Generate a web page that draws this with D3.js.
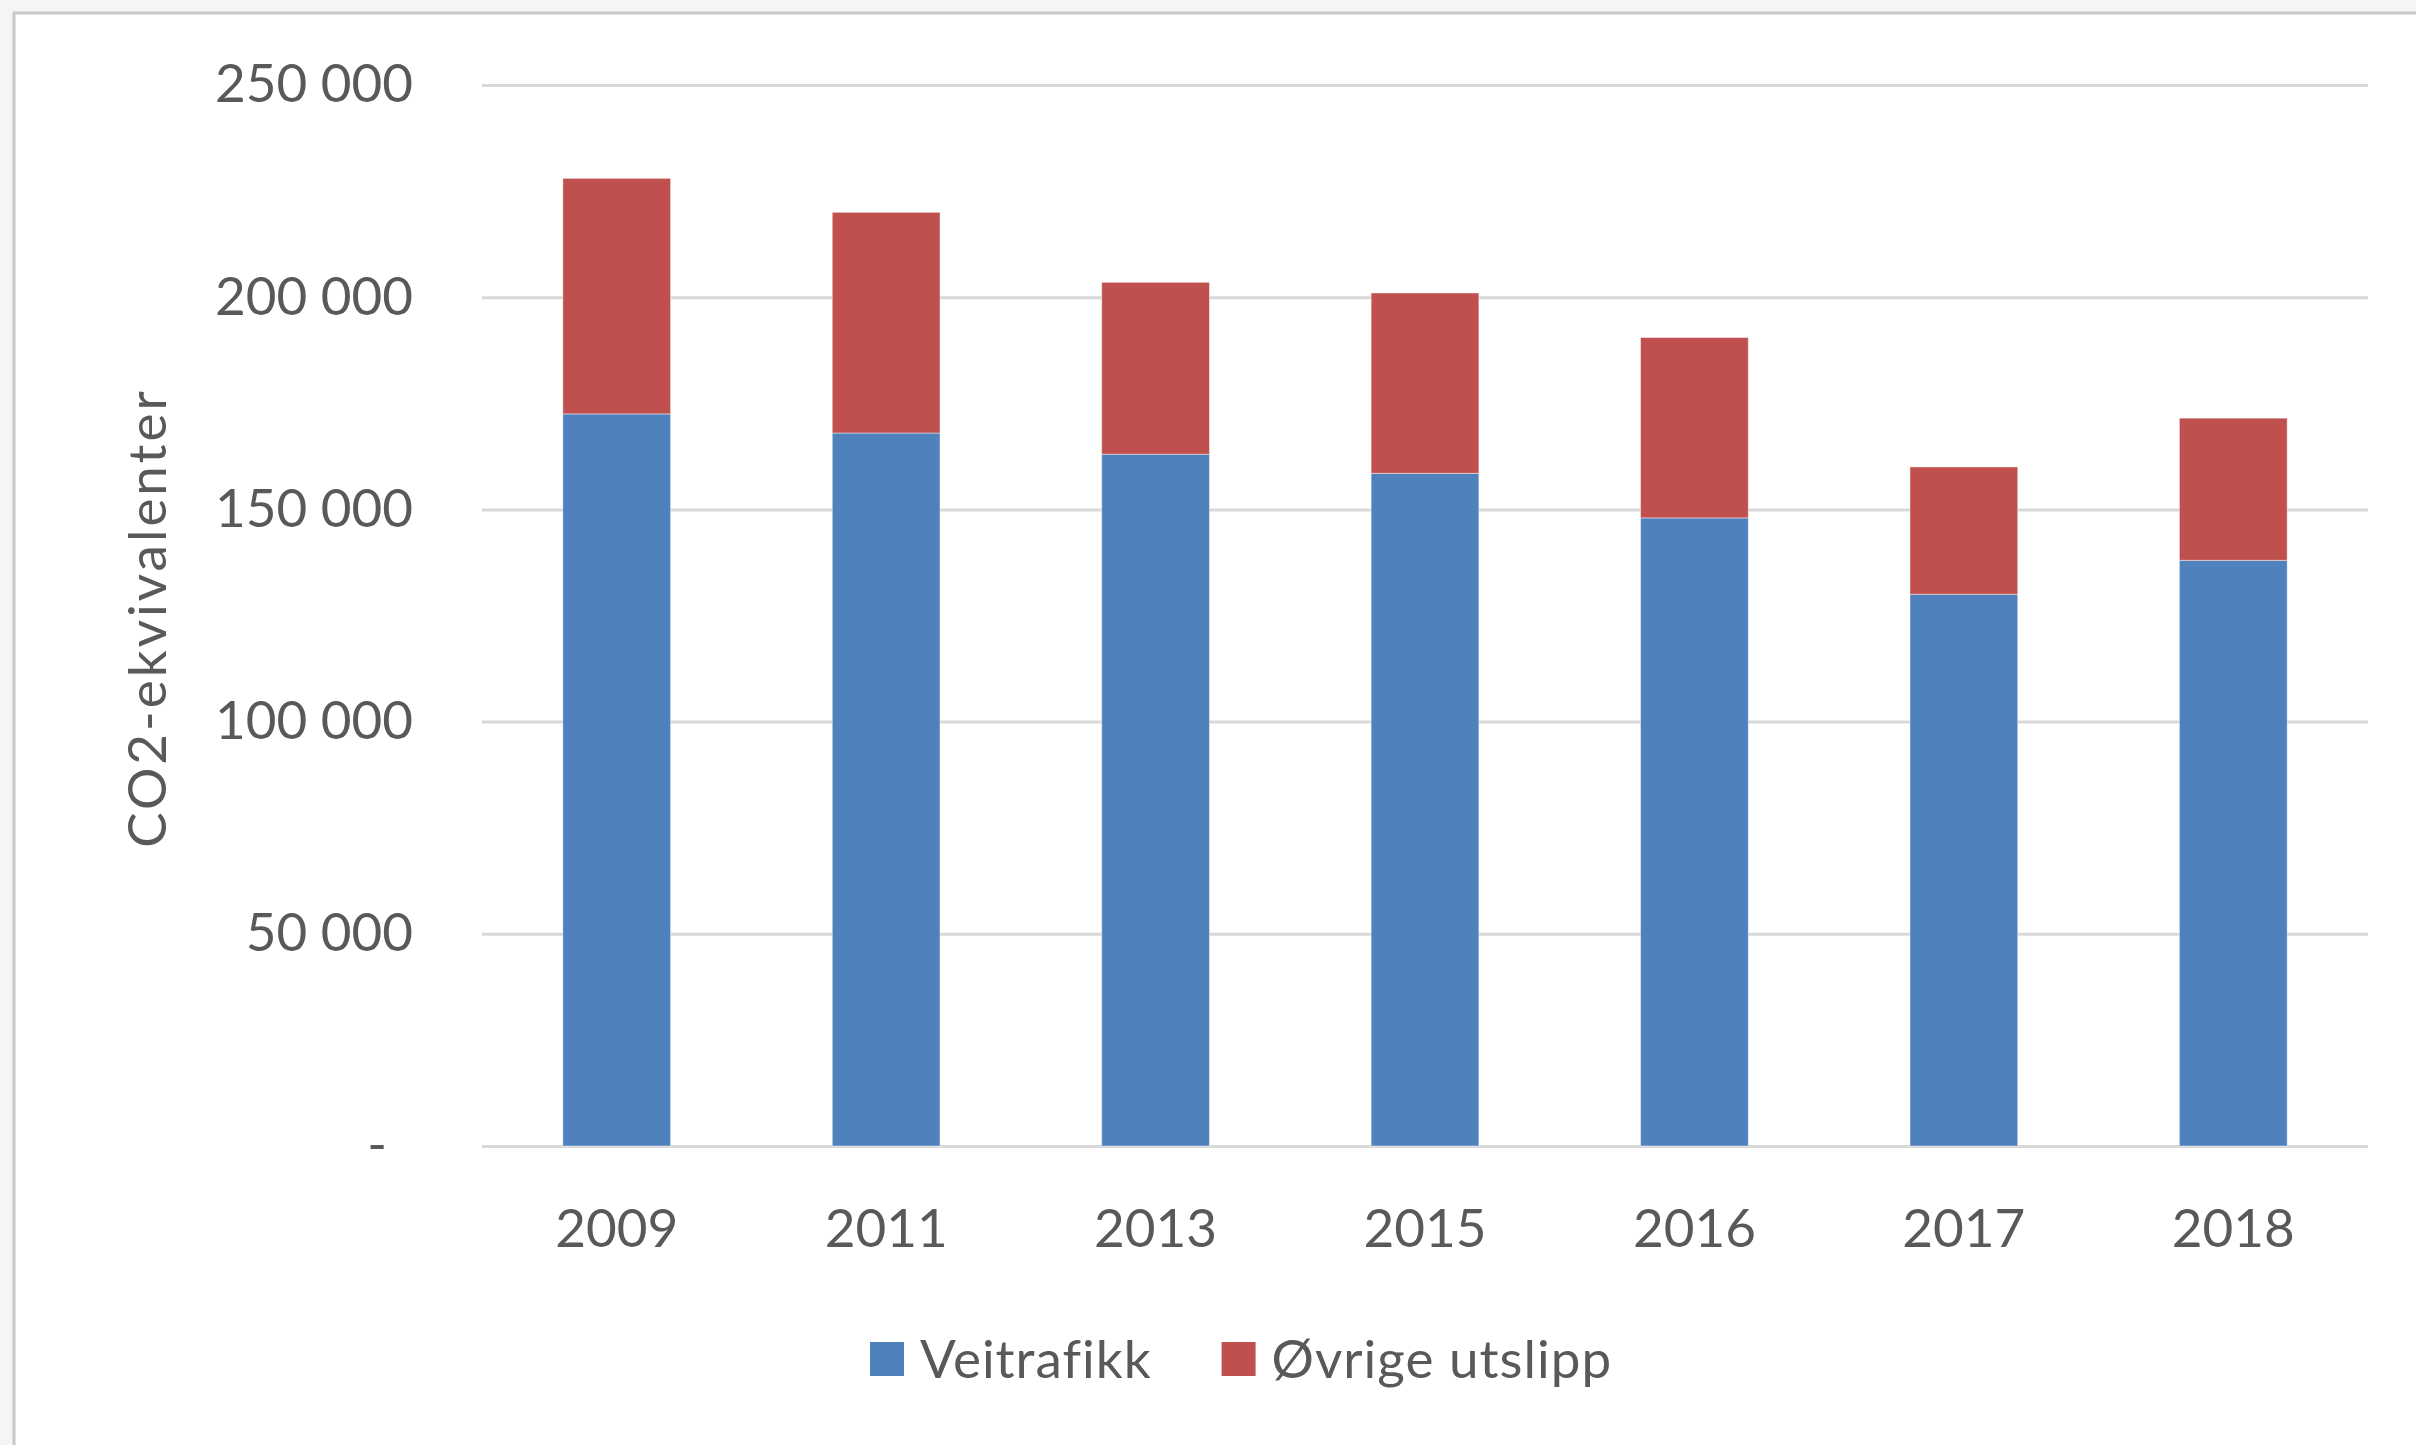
<!DOCTYPE html>
<html>
<head>
<meta charset="utf-8">
<script src="https://cdn.jsdelivr.net/npm/d3@7"></script>
<style>
  html, body { margin: 0; padding: 0; background: #f4f6f4; }
  svg { display: block; }
</style>
</head>
<body>
<svg id="chart" width="2416" height="1445"></svg>
<script>
// data
const years = ["2009", "2011", "2013", "2015", "2016", "2017", "2018"];
const veitrafikk = [172500, 168000, 163000, 158500, 148000, 130000, 138000];
const ovrige = [55500, 52000, 40500, 42500, 42500, 30000, 33500];
const seriesNames = ["Veitrafikk", "Øvrige utslipp"];
const seriesColors = ["#4f81bd", "#c0504d"];
const yTicks = [0, 50000, 100000, 150000, 200000, 250000];

const svg = d3.select("#chart"),
   margin = {top: 85, right: 48, bottom: 299, left: 482},
   width = +svg.attr("width"),
   height = +svg.attr("height");

const fontFam = "Lato, 'Open Sans', sans-serif";
const textCol = "#595959";

// chart area
svg.append("rect")
   .attr("x", 14).attr("y", 13)
   .attr("width", width + 10).attr("height", height + 10)
   .attr("fill", "#fff")
   .attr("stroke", "#c8c8c8")
   .attr("stroke-width", 3);

const x = d3.scaleBand()
   .domain(years)
   .range([margin.left, width - margin.right])
   .paddingInner(0.6)
   .paddingOuter(0.3);

const y = d3.scaleLinear()
   .domain([0, 250000])
   .range([height - margin.bottom, margin.top]);

const fmt = v => v === 0 ? "-" : d3.format(",")(v).replace(/,/g, " ");

// y axis + gridlines
const yAxis = svg.append("g")
   .attr("transform", `translate(${margin.left},0)`)
   .call(d3.axisLeft(y).tickValues(yTicks).tickFormat(fmt)
      .tickSizeInner(-(width - margin.right - margin.left))
      .tickSizeOuter(0)
      .tickPadding(69));
yAxis.select(".domain").remove();
yAxis.selectAll("line").attr("stroke", "#d9d9d9").attr("stroke-width", 3);
yAxis.selectAll("text")
   .attr("font-family", fontFam)
   .attr("font-size", 53)
   .attr("fill", textCol)
   .attr("dx", d => d === 0 ? -26 : 0);

// stacked bars
const rows = years.map((yr, i) => ({year: yr, Veitrafikk: veitrafikk[i], "Øvrige utslipp": ovrige[i]}));
const stack = d3.stack().keys(seriesNames)(rows);

svg.append("g")
   .selectAll("g")
   .data(stack)
   .join("g")
   .attr("fill", (d, i) => seriesColors[i])
   .selectAll("rect")
   .data(d => d)
   .join("rect")
   .attr("x", d => x(d.data.year))
   .attr("y", d => y(d[1]))
   .attr("height", d => y(d[0]) - y(d[1]))
   .attr("width", x.bandwidth())
   .attr("stroke", "#ffffff")
   .attr("stroke-opacity", 0.45)
   .attr("stroke-width", 1);

// x axis
const xAxis = svg.append("g")
   .attr("transform", `translate(0,${height - margin.bottom})`)
   .call(d3.axisBottom(x).tickSize(0).tickPadding(63));
xAxis.select(".domain").remove();
xAxis.selectAll("text")
   .attr("font-family", fontFam)
   .attr("font-size", 53)
   .attr("fill", textCol);

// y axis title
svg.append("text")
   .attr("transform", "translate(166,618) rotate(-90)")
   .attr("text-anchor", "middle")
   .attr("font-family", fontFam)
   .attr("font-size", 53)
   .attr("letter-spacing", 3)
   .attr("fill", textCol)
   .text("CO2-ekvivalenter");

// legend
const legend = svg.append("g");
let lx = 870;
seriesNames.forEach((name, i) => {
   legend.append("rect")
      .attr("x", lx).attr("y", 1342)
      .attr("width", 34).attr("height", 34)
      .attr("fill", seriesColors[i]);
   const t = legend.append("text")
      .attr("x", lx + 50).attr("y", 1378)
      .attr("font-family", fontFam)
      .attr("font-size", 53)
      .attr("letter-spacing", 1)
      .attr("fill", textCol)
      .text(name);
   lx = lx + 50 + t.node().getComputedTextLength() + 70;
});
</script>
</body>
</html>
